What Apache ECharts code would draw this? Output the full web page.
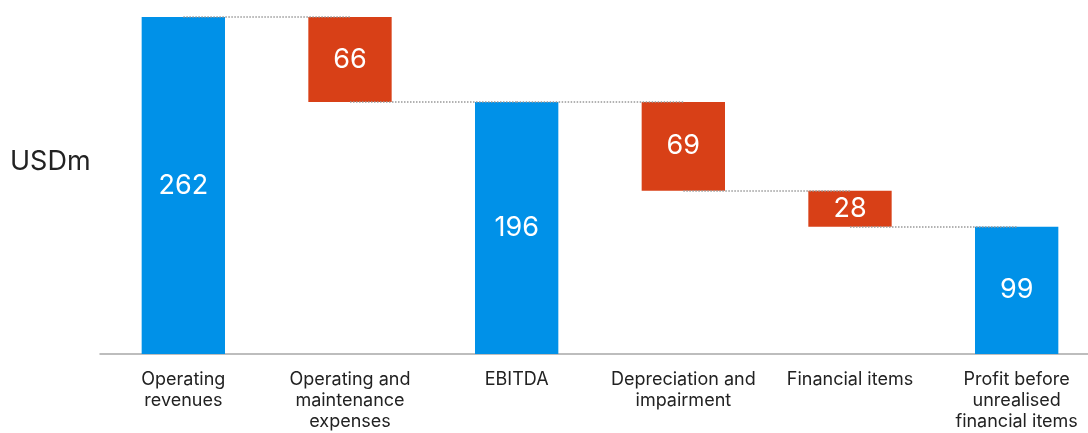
<!DOCTYPE html>
<html>
<head>
<meta charset="utf-8">
<script src="https://cdn.jsdelivr.net/npm/echarts@6/dist/echarts.min.js"></script>
<style>
html,body{margin:0;padding:0;background:#fff;overflow:hidden;}
#chart{width:1100px;height:433px;}
</style>
</head>
<body>
<div id="chart"></div>
<script>
const categories = ["Operating\nrevenues", "Operating and\nmaintenance\nexpenses", "EBITDA", "Depreciation and\nimpairment", "Financial items", "Profit before\nunrealised\nfinancial items"];
const values = [262, 66, 196, 69, 28, 99];
const kinds = ["total", "decrease", "total", "decrease", "decrease", "total"];
const unitLabel = "USDm";

const BLUE = "#0091E8";
const RED = "#D84017";
const FONT = "Inter, 'Noto Sans', sans-serif";

// derive invisible base offsets from the values
const bases = [];
let running = 0;
values.forEach((v, i) => {
  if (kinds[i] === "total") { bases.push(0); running = v; }
  else { running = running - v; bases.push(running); }
});
const connectors = [];
for (let i = 0; i < values.length - 1; i++) {
  const lvl = kinds[i] === "total" ? values[i] : bases[i];
  connectors.push([{ coord: [i, lvl] }, { coord: [i + 1, lvl] }]);
}

const chart = echarts.init(document.getElementById("chart"), null, { renderer: "canvas" });
chart.setOption({
  animation: false,
  graphic: [{
    type: "text", left: 10, top: 148,
    style: { text: unitLabel, font: "27px " + FONT, fill: "#222" }
  }],
  grid: { left: 100, right: 0, top: 17, bottom: 79, containLabel: false },
  xAxis: {
    type: "category",
    data: categories,
    axisLine: { lineStyle: { color: "#a8a8a8", width: 1.5 } },
    axisTick: { show: false },
    axisLabel: { color: "#222", fontSize: 18, lineHeight: 21, margin: 15, fontFamily: FONT, interval: 0 }
  },
  yAxis: {
    type: "value", min: 0, max: 262,
    show: false, splitLine: { show: false }
  },
  series: [
    {
      type: "bar", stack: "w", data: bases, barWidth: "50%",
      itemStyle: { color: "transparent" }, silent: true
    },
    {
      type: "bar", stack: "w", barWidth: "50%",
      data: values.map((v, i) => ({ value: v, itemStyle: { color: kinds[i] === "total" ? BLUE : RED } })),
      label: { show: true, position: "inside", color: "#fff", fontSize: 27, fontFamily: FONT },
      markLine: {
        silent: true, symbol: "none",
        label: { show: false },
        lineStyle: { type: "dotted", color: "#999", width: 1.5 },
        data: connectors
      }
    }
  ]
});
</script>
</body>
</html>
